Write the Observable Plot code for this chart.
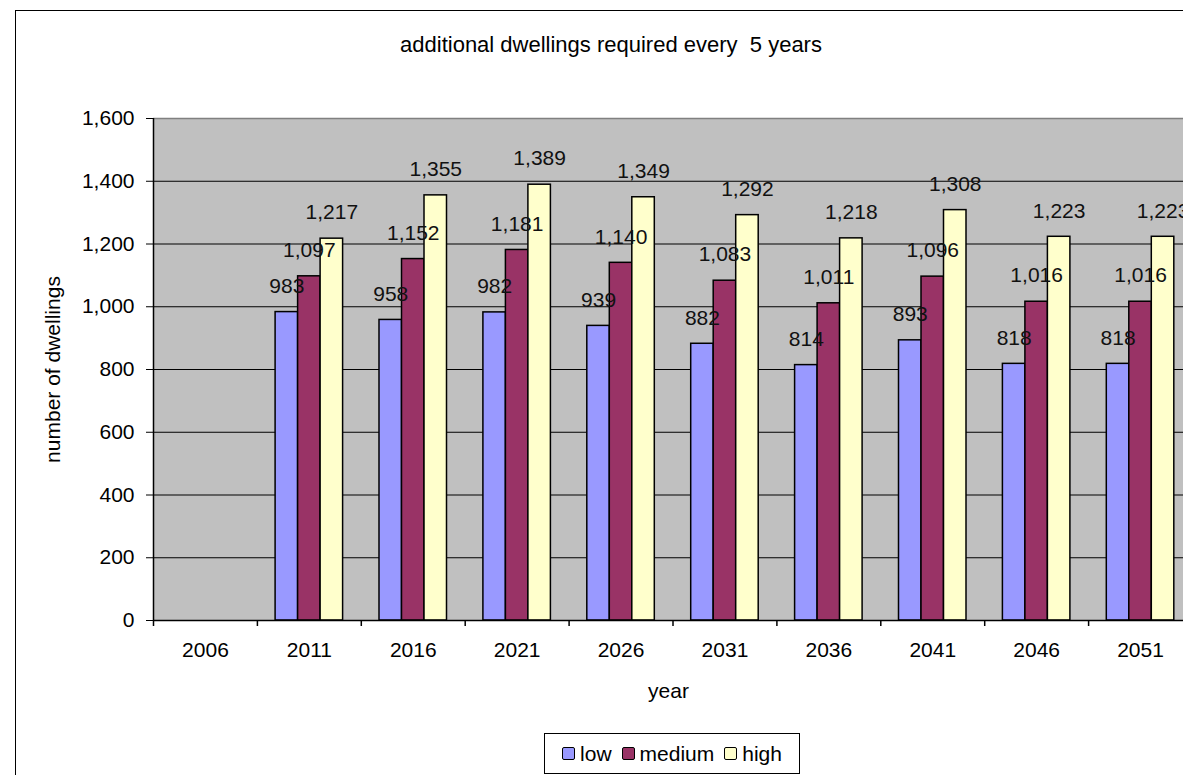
<!DOCTYPE html>
<html>
<head>
<meta charset="utf-8">
<script src="https://cdn.jsdelivr.net/npm/d3@7"></script>
<script src="https://cdn.jsdelivr.net/npm/@observablehq/plot@0.6"></script>
<style>
  html, body { margin: 0; padding: 0; background: #fff; overflow: hidden; width: 1183px; height: 775px; }
  body { position: relative; font-family: "Liberation Sans", Arial, sans-serif; color: #000; }
  #border { position: absolute; left: 15px; top: 10px; width: 1300px; height: 900px; border: 1.5px solid #000; box-sizing: border-box; }
  #title { position: absolute; left: 0; width: 1222px; top: 32px; text-align: center; font-size: 22px; }
  #chart { position: absolute; left: 0; top: 0; }
  #legend { position: absolute; left: 544px; top: 733px; width: 256px; height: 41px; border: 1.5px solid #000; box-sizing: border-box;
            display: flex; align-items: center; justify-content: center; gap: 0; font-size: 21px; background: #fff; }
  .item { display: flex; align-items: center; margin: 0 5px; }
  .sw { width: 11px; height: 11px; border: 1.5px solid #000; border-radius: 2px; margin-right: 5px; }
</style>
</head>
<body>
<div id="border"></div>
<div id="title">additional dwellings required every&nbsp; 5 years</div>
<div id="chart"></div>
<div id="legend"></div>
<script>
const years = [2006, 2011, 2016, 2021, 2026, 2031, 2036, 2041, 2046, 2051];
const seriesNames = ["low", "medium", "high"];
const low    = [null, 983, 958, 982, 939, 882, 814, 893, 818, 818];
const medium = [null, 1097, 1152, 1181, 1140, 1083, 1011, 1096, 1016, 1016];
const high   = [null, 1217, 1355, 1389, 1349, 1292, 1218, 1308, 1223, 1223];
const colors = ["#9999ff", "#993366", "#ffffcc"];
const yTicks = [0, 200, 400, 600, 800, 1000, 1200, 1400, 1600];

const seriesValues = [low, medium, high];
const rows = [];
years.forEach((yr, i) => {
  seriesValues.forEach((arr, s) => {
    if (arr[i] != null) rows.push({year: String(yr), series: seriesNames[s], s, value: arr[i]});
  });
});

const W = 1183, H = 720;
const mL = 153, mT = 118, mB = H - 620;
const xRange = [153, 1192];
const bw = (xRange[1] - xRange[0]) / years.length;
const barW = 22.5;
const inset = (bw - barW) / 2;
const offset = s => (s - 1) * barW;
const fmt = d3.format(",");

const marks = [
  Plot.frame({fill: "#c0c0c0", stroke: "none"}),
  Plot.ruleY(yTicks.filter(v => v > 0 && v < 1600), {stroke: "#000", strokeWidth: 1.2}),
  Plot.ruleY([1600], {stroke: "#808080", strokeWidth: 1.5}),
];
seriesNames.forEach((name, s) => {
  const data = rows.filter(d => d.s === s);
  marks.push(Plot.barY(data, {
    x: "year", y: "value", fill: colors[s], stroke: "#000", strokeWidth: 1.5,
    dx: offset(s), insetLeft: inset, insetRight: inset
  }));
});
seriesNames.forEach((name, s) => {
  const data = rows.filter(d => d.s === s);
  marks.push(Plot.text(data, {
    x: "year", y: "value", text: d => fmt(d.value), dx: offset(s), dy: -26,
    fontSize: 21, fill: "#111", lineAnchor: "middle"
  }));
});
marks.push(
  Plot.ruleY([0], {stroke: "#000", strokeWidth: 1.5}),
  Plot.ruleX([String(years[0])], {dx: -bw / 2, stroke: "#000", strokeWidth: 1.5}),
  Plot.axisX({tickSize: 6, dx: -bw / 2, tickFormat: () => "", stroke: "#000", strokeWidth: 1.5, label: null}),
  Plot.axisX({tickSize: 0, tickPadding: 22, fontSize: 21, label: "year", labelAnchor: "center", labelOffset: 77}),
  Plot.axisY({ticks: yTicks, tickSize: 7, tickPadding: 12, tickFormat: fmt, fontSize: 21,
              label: "number of dwellings", labelAnchor: "center", labelOffset: 108, labelArrow: "none"})
);

const chart = Plot.plot({
  width: W, height: H,
  marginLeft: mL, marginTop: mT, marginBottom: mB, marginRight: 0,
  x: {type: "band", domain: years.map(String), range: xRange, padding: 0, round: false},
  y: {domain: [0, 1600]},
  style: {fontSize: "21px", fontFamily: "Liberation Sans, Arial, sans-serif", color: "#000", background: "transparent", overflow: "visible"},
  marks
});
document.getElementById("chart").appendChild(chart);

const legend = document.getElementById("legend");
seriesNames.forEach((name, s) => {
  const item = document.createElement("div");
  item.className = "item";
  const sw = document.createElement("div");
  sw.className = "sw";
  sw.style.background = colors[s];
  const t = document.createElement("span");
  t.textContent = name;
  item.appendChild(sw); item.appendChild(t);
  legend.appendChild(item);
});
</script>
</body>
</html>
